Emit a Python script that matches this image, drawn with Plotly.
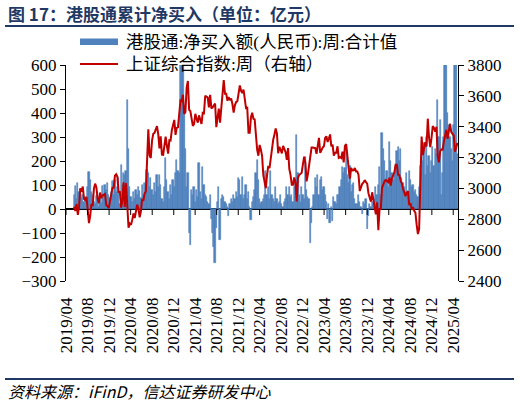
import plotly.graph_objects as go
import pandas as pd

# Shanghai Composite, weekly close (right axis)
sh_2019 = [2882, 2853, 2899, 2828, 2882, 3001, 2979, 3012, 2931, 2924,
           2945, 2868, 2775, 2823, 2898, 2886, 2999, 3031, 3006, 2932,
           2905, 2973, 2938, 2954, 2958, 2964, 2891, 2885, 2872, 2912,
           2968, 3005, 3005]
sh_2020 = [3083, 3092, 3075, 2977, 2977, 2876, 2917, 3040, 2880, 3034,
           2887, 2745, 2772, 2764, 2796, 2838, 2808, 2860, 2895, 2868,
           2813, 2852, 2931, 2920, 2968, 2980, 3152, 3383, 3214, 3197,
           3310, 3354, 3360, 3381, 3404, 3355, 3260, 3338, 3219, 3218,
           3272, 3336, 3278, 3225, 3312, 3310, 3377, 3408, 3444, 3347,
           3394, 3397]
sh_2021 = [3473, 3570, 3566, 3607, 3483, 3496, 3655, 3696, 3509, 3502,
           3453, 3405, 3418, 3484, 3451, 3426, 3474, 3447, 3418, 3490,
           3487, 3601, 3592, 3590, 3525, 3607, 3519, 3525, 3539, 3550,
           3397, 3458, 3517, 3427, 3522, 3581, 3703, 3613, 3613, 3568,
           3592, 3572, 3583, 3547, 3491, 3539, 3560, 3565, 3608, 3667,
           3633, 3618, 3640]
sh_2022 = [3580, 3521, 3523, 3361, 3361, 3462, 3491, 3451, 3447, 3310,
           3251, 3212, 3282, 3252, 3211, 3087, 3047, 3001, 3084, 3146,
           3131, 3195, 3285, 3316, 3350, 3388, 3356, 3228, 3270, 3253,
           3227, 3276, 3258, 3236, 3186, 3262, 3126, 3088, 3024, 3024,
           3071, 3038, 2916, 3071, 3087, 3097, 3101, 3156, 3206, 3167,
           3046, 3089]
sh_2023 = [3157, 3195, 3265, 3265, 3263, 3261, 3224, 3267, 3328, 3230,
           3251, 3265, 3273, 3327, 3338, 3301, 3323, 3350, 3272, 3284,
           3212, 3231, 3231, 3273, 3198, 3202, 3197, 3238, 3168, 3276,
           3288, 3189, 3132, 3064, 3133, 3116, 3117, 3132, 3110, 3110,
           3088, 2983, 3017, 3030, 3039, 3054, 3040, 3031, 2969, 2942,
           2914, 2975]
sh_2024 = [2929, 2882, 2832, 2910, 2730, 2866, 2866, 3004, 3027, 3046,
           3055, 3048, 3041, 3069, 3019, 3065, 3088, 3105, 3154, 3154,
           3089, 3087, 3051, 3033, 2998, 2967, 2950, 2971, 2982, 2891,
           2905, 2862, 2879, 2855, 2842, 2765, 2704, 2737, 3088, 3336,
           3217, 3261, 3300, 3272, 3452, 3331, 3268, 3326, 3404, 3392,
           3368, 3400]
sh_2025 = [3211, 3169, 3241, 3253, 3251, 3303, 3347, 3380, 3321, 3373,
           3419, 3365, 3352, 3342, 3238, 3277, 3296]

# Southbound Connect weekly net buying, 100m CNY (left axis)
flow_2019 = [60, 95, 40, 110, 70, 85, 45, 60, 30, 50,
             40, 90, 155, 120, 70, 60, 30, 20, 55, 70,
             10, 40, 25, 95, 60, 100, 80, 110, 60, 45,
             70, 115, 60]
flow_2020 = [120, 70, 90, 130, 20, 183, 100, 150, 140, 160,
             454, 250, 90, 50, 30, 70, 40, 80, 60, 90,
             75, 45, 100, 60, 110, 65, 162, 150, 90, 130,
             80, 60, 110, 70, 140, 90, 140, 100, 40, 30,
             90, 212, 120, 70, 40, 100, 60, 120, 90, 150,
             205, 160]
flow_2021 = [150, 620, 720, 680, 400, 250, 90, 150, -100, -150,
             80, 60, 90, 30, 80, 50, 190, 70, 40, 175,
             100, 60, 50, 30, 20, 60, -40, -100, -160, -225,
             -80, 30, 90, -130, 40, 60, 50, 30, 20, 10,
             -30, 20, 40, 30, 60, 40, 70, 50, 130, 120,
             60, 135, 40]
flow_2022 = [60, 100, 40, 70, 10, -45, 30, 50, 80, 150,
             205, 120, 40, 20, 30, 40, 60, 160, 60, 90,
             40, 160, 60, 40, 30, 90, 40, 20, 30, 60,
             20, 10, 30, 40, 90, 60, 90, 50, 60, 30,
             90, 120, 308, 150, 60, 30, 90, 60, 40, 218,
             80, 50]
flow_2023 = [40, -140, -60, 10, 60, 130, 90, 140, 60, 120,
             135, 80, 90, 60, 30, -40, 20, -60, 10, -50,
             50, 30, 20, 60, 60, 90, 120, 175, 150, 170,
             260, 140, 110, 180, 70, 100, 110, 40, 20, 20,
             60, 30, 10, -20, 30, 20, 40, -85, -30, 20,
             10, 30]
flow_2024 = [20, 40, 90, 60, 100, 175, 60, 316, 250, 200,
             120, 160, 90, 280, 200, 150, 120, 140, 180, 240,
             260, 200, 250, 130, 110, 90, 70, 150, 60, 160,
             120, 90, 100, 70, 80, 60, 50, 90, 180, 150,
             200, 275, 140, 300, 180, 220, 150, 200, 260, 180,
             250, 230]
flow_2025 = [455, 300, 370, 60, 150, 300, 650, 700, 400, 350,
             300, 250, 200, 350, 900, 700, 230]

tick_labels = ["2019/04", "2019/08", "2019/12", "2020/04", "2020/08", "2020/12",
               "2021/04", "2021/08", "2021/12", "2022/04", "2022/08", "2022/12",
               "2023/04", "2023/08", "2023/12", "2024/04", "2024/08", "2024/12",
               "2025/04"]

sh = sh_2019 + sh_2020 + sh_2021 + sh_2022 + sh_2023 + sh_2024 + sh_2025
flow = flow_2019 + flow_2020 + flow_2021 + flow_2022 + flow_2023 + flow_2024 + flow_2025
dates = pd.date_range("2019-05-17", periods=len(sh), freq="W-FRI")
tick_vals = [pd.Timestamp(t.replace("/", "-") + "-01") for t in tick_labels]

NAVY = "#1F3864"
BLUE = "#4F81BD"
RED = "#C00000"
SERIF = "Liberation Serif, Noto Sans CJK SC, serif"
CJK = "Noto Sans CJK SC, sans-serif"

# plot area in pixels
L, R, T, B = 66, 458, 65, 281
def px(x):
    return (x - L) / (R - L)
def py(y):
    return (B - y) / (B - T)

fig = go.Figure()
fig.add_trace(go.Bar(x=dates, y=flow, marker=dict(color=BLUE, line=dict(color=BLUE, width=0.6)),
                     name="港股通:净买入额(人民币):周:合计值", yaxis="y"))
fig.add_trace(go.Scatter(x=dates, y=sh, mode="lines", line=dict(color=RED, width=2),
                         name="上证综合指数:周（右轴）", yaxis="y2"))

fig.update_layout(
    width=520, height=406,
    margin=dict(l=L, r=520 - R, t=T, b=406 - B, pad=0, autoexpand=False),
    paper_bgcolor="white", plot_bgcolor="white",
    showlegend=False, bargap=0,
    font=dict(family=SERIF, size=17, color="black"),
    xaxis=dict(type="date", range=["2019-04-01", "2025-04-28"],
               tickvals=tick_vals, ticktext=tick_labels, tickangle=-90,
               ticks="", showline=False, showgrid=False, zeroline=False,
               ticklabelstandoff=12, automargin=False,
               tickfont=dict(family=SERIF, size=17, color="black")),
    yaxis=dict(range=[-300, 600], dtick=100, showgrid=False,
               showline=True, linecolor="black", linewidth=1,
               ticks="outside", ticklen=5, tickcolor="black",
               zeroline=True, zerolinecolor="black", zerolinewidth=1.5,
               layer="above traces", automargin=False,
               tickfont=dict(family=SERIF, size=17, color="black")),
    yaxis2=dict(range=[2400, 3800], dtick=200, overlaying="y", side="right",
                showgrid=False, zeroline=False, automargin=False,
                showline=True, linecolor="black", linewidth=1,
                ticks="outside", ticklen=5, tickcolor="black",
                tickfont=dict(family=SERIF, size=17, color="black")),
)

shapes = []
# tick marks hanging from the zero line
for tv in tick_vals:
    shapes.append(dict(type="line", xref="x", yref="y", x0=tv, x1=tv,
                       ysizemode="pixel", yanchor=0, y0=-6, y1=0,
                       line=dict(color="black", width=1)))
# title underline and footer line
shapes.append(dict(type="line", xref="paper", yref="paper", x0=px(5), x1=px(514),
                   y0=py(26), y1=py(26), line=dict(color=NAVY, width=2)))
shapes.append(dict(type="line", xref="paper", yref="paper", x0=px(5), x1=px(514),
                   y0=py(379), y1=py(379), line=dict(color=NAVY, width=2)))
# legend glyphs
shapes.append(dict(type="rect", xref="paper", yref="paper", x0=px(80), x1=px(118),
                   y0=py(45), y1=py(38.5), fillcolor=BLUE, line=dict(width=0)))
shapes.append(dict(type="line", xref="paper", yref="paper", x0=px(80), x1=px(118),
                   y0=py(64), y1=py(64), line=dict(color=RED, width=2)))
fig.update_layout(shapes=shapes)

annotations = [
    dict(text="<b>图 17：港股通累计净买入（单位：亿元）</b>", x=px(6), y=py(14),
         font=dict(family=CJK, size=17, color=NAVY)),
    dict(text="港股通:净买入额(人民币):周:合计值", x=px(124), y=py(42),
         font=dict(family=SERIF, size=17.5, color="black")),
    dict(text="上证综合指数:周（右轴）", x=px(124), y=py(64),
         font=dict(family=SERIF, size=17.5, color="black")),
    dict(text="<i>资料来源：iFinD，信达证券研发中心</i>", x=px(6), y=py(391),
         font=dict(family=CJK, size=16, color="black")),
]
for a in annotations:
    a.update(xref="paper", yref="paper", xanchor="left", yanchor="middle",
             showarrow=False)
fig.update_layout(annotations=annotations)

fig.write_html("out.html", config={"displayModeBar": False},
               post_script="document.body.style.margin='0px';")
